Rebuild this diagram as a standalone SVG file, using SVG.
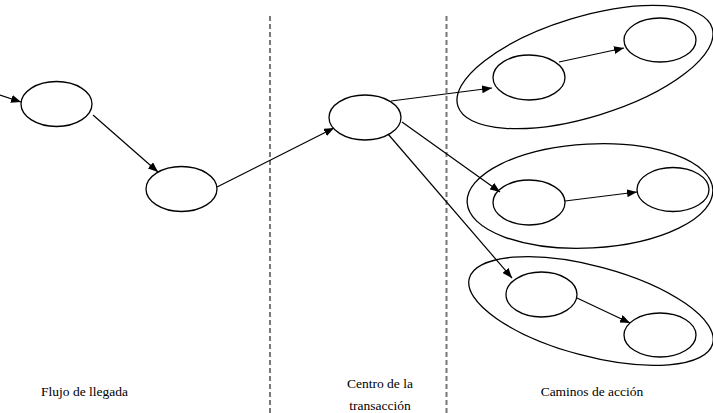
<svg xmlns="http://www.w3.org/2000/svg" width="713" height="413" viewBox="0 0 713 413">
<defs>
<marker id="ah" viewBox="0 0 10 8" refX="10" refY="4" markerWidth="10" markerHeight="8" markerUnits="userSpaceOnUse" orient="auto">
<path d="M0,0 L10,4 L0,8 Z" fill="#000"/>
</marker>
</defs>
<style>
.n{fill:#fff;stroke:#000;stroke-width:1.3}
.g{fill:none;stroke:#000;stroke-width:1.3}
.c{fill:none;stroke:#000;stroke-width:1.2;marker-end:url(#ah)}
.d{stroke:#777;stroke-width:2;stroke-dasharray:5 3}
.t{font-size:13.5px;fill:#000;text-anchor:middle}
</style>
<rect width="713" height="413" fill="#fff"/>
<g id="dividers">
<line class="d" x1="270" y1="16" x2="270" y2="413"/>
<line class="d" x1="446.5" y1="16" x2="446.5" y2="413"/>
</g>
<g id="group-top"><ellipse class="g" cx="585" cy="67" rx="133" ry="50" transform="rotate(-17 585 67)"/></g>
<g id="group-mid"><ellipse class="g" cx="590" cy="196" rx="123" ry="52" transform="rotate(-3 590 196)"/></g>
<g id="group-bot"><ellipse class="g" cx="591" cy="311" rx="126" ry="45" transform="rotate(15 591 311)"/></g>
<g id="node-a"><ellipse class="n" cx="56.5" cy="104" rx="35.5" ry="22.5"/></g>
<g id="node-b"><ellipse class="n" cx="181.5" cy="189" rx="35.5" ry="22.5"/></g>
<g id="node-c"><ellipse class="n" cx="365" cy="117.5" rx="36" ry="22.5"/></g>
<g id="node-d"><ellipse class="n" cx="529" cy="77.5" rx="36" ry="22.5"/></g>
<g id="node-e"><ellipse class="n" cx="660" cy="40" rx="36" ry="22"/></g>
<g id="node-f"><ellipse class="n" cx="529" cy="202.5" rx="36" ry="22.5"/></g>
<g id="node-g"><ellipse class="n" cx="673" cy="189.5" rx="36" ry="22"/></g>
<g id="node-h"><ellipse class="n" cx="541.5" cy="294.5" rx="35.5" ry="22.5"/></g>
<g id="node-i"><ellipse class="n" cx="660" cy="335" rx="36" ry="22"/></g>
<g id="connectors">
<line class="c" x1="0" y1="95" x2="21" y2="102"/>
<line class="c" x1="93" y1="115" x2="158" y2="172"/>
<line class="c" x1="217" y1="187" x2="334" y2="128"/>
<line class="c" x1="391" y1="101" x2="492" y2="88"/>
<line class="c" x1="402" y1="122" x2="500" y2="192"/>
<line class="c" x1="388" y1="134" x2="512" y2="278"/>
<line class="c" x1="559" y1="62" x2="624" y2="48"/>
<line class="c" x1="565" y1="201" x2="637" y2="192"/>
<line class="c" x1="577" y1="298" x2="630" y2="323"/>
</g>
<g id="labels" font-family="Liberation Serif, Times New Roman, serif">
<text class="t" x="84.5" y="396">Flujo de llegada</text>
<text class="t" x="380" y="388">Centro de la</text>
<text class="t" x="380" y="410">transacción</text>
<text class="t" x="592" y="396">Caminos de acción</text>
</g>
</svg>
